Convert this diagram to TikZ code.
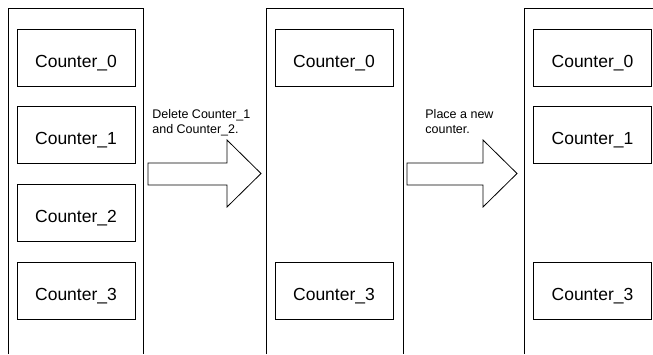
\documentclass[tikz,border=0pt]{standalone}
\usepackage{fontspec}
\setmainfont{Liberation Sans}
\usetikzlibrary{positioning}
\tikzset{
  every picture/.style={line width=0.8pt},
  counter/.style={draw, minimum width=118pt, minimum height=57pt, inner sep=0pt, text height=19pt, text depth=0pt, font=\fontsize{17.5}{20}\selectfont},
  column/.style={draw, line width=0.8pt},
  blockarrow/.style={draw, line width=0.8pt, fill=white},
  note/.style={font=\fontsize{12.5}{15.5}\selectfont, align=left, anchor=north west, inner sep=0pt},
}
\begin{document}
\begin{tikzpicture}[x=1pt, y=-1pt]
  \clip (0,0) rectangle (653,354);
  % columns (open at the bottom)
  \draw[column] (8,354) -- (8,8) -- (143,8) -- (143,354);
  \draw[column] (266,354) -- (266,8) -- (403,8) -- (403,354);
  \draw[column] (524,354) -- (524,8) -- (662,8) -- (662,354);
  % before
  \node[counter] (a0) at (76,57.5) {Counter\_0};
  \node[counter] (a1) at (76,134.5) {Counter\_1};
  \node[counter] (a2) at (76,213) {Counter\_2};
  \node[counter] (a3) at (76,290.5) {Counter\_3};
  % after deleting
  \node[counter] (b0) at (334,57.5) {Counter\_0};
  \node[counter] (b3) at (334,290.5) {Counter\_3};
  % after placing
  \node[counter] (c0) at (592.5,57.5) {Counter\_0};
  \node[counter] (c1) at (592.5,134.5) {Counter\_1};
  \node[counter] (c3) at (592.5,290.5) {Counter\_3};
  % steps
  \draw[blockarrow] (148,163) -- (227,163) -- (227,140) -- (261,173.5) -- (227,207) -- (227,185) -- (148,185) -- cycle;
  \draw[blockarrow] (407,163) -- (483,163) -- (483,140) -- (517,173.5) -- (483,207) -- (483,185) -- (407,185) -- cycle;
  \node[note] (d) at (152,109) {Delete Counter\_1\\and Counter\_2.};
  \node[note] (p) at (425,109) {Place a new\\counter.};
\end{tikzpicture}
\end{document}
